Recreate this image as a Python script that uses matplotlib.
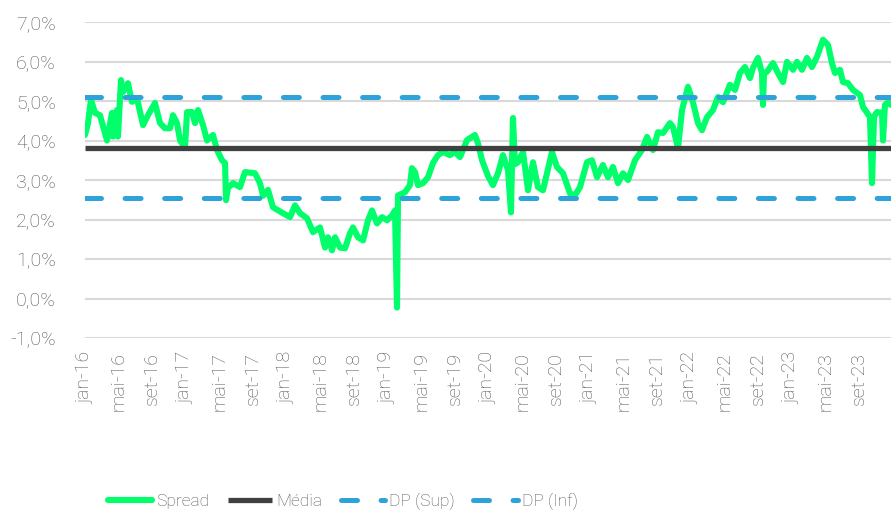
import matplotlib
matplotlib.use("Agg")
import matplotlib.pyplot as plt
from matplotlib.ticker import FixedLocator, FuncFormatter

# months since jan-2016 (fractional) and spread values (%)
months = [0.00, 0.36, 0.71, 1.19, 1.78, 2.62, 3.21, 3.33, 3.80, 3.92, 4.28, 4.52, 5.11, 5.59,
          6.18, 6.90, 7.49, 8.32, 8.92, 9.51, 10.11, 10.46, 10.94, 11.30, 11.89, 12.13, 12.72,
          13.08, 13.44, 14.03, 14.51, 15.22, 15.70, 16.29, 16.65, 16.77, 17.00, 17.60, 18.43,
          19.02, 20.21, 20.81, 21.17, 21.76, 22.35, 23.54, 24.38, 24.97, 25.57, 26.40, 27.11,
          27.94, 28.54, 28.89, 29.37, 29.73, 30.32, 30.92, 31.51, 31.87, 32.46, 33.06, 33.65,
          34.13, 34.72, 35.32, 35.91, 36.50, 36.86, 37.10, 37.22, 38.05, 38.64, 38.88, 39.24,
          39.60, 40.19, 40.78, 41.38, 41.97, 42.57, 43.40, 44.00, 44.59, 45.42, 46.37, 46.73,
          47.21, 47.92, 48.51, 49.11, 49.70, 50.30, 50.65, 50.89, 51.13, 51.49, 52.08, 52.68,
          53.27, 53.86, 54.46, 55.53, 56.12, 56.84, 57.67, 58.26, 58.86, 59.69, 60.29, 60.88,
          61.59, 62.19, 62.78, 63.38, 63.97, 64.57, 65.40, 66.23, 66.83, 67.54, 68.13, 68.73,
          69.56, 69.92, 70.51, 70.99, 71.70, 72.29, 72.89, 73.36, 73.96, 74.67, 75.27, 75.86,
          76.69, 77.29, 77.88, 78.48, 79.07, 79.43, 80.02, 80.50, 80.62, 80.74, 81.09, 81.81,
          82.40, 83.00, 83.47, 84.19, 84.66, 85.26, 85.85, 86.44, 87.04, 87.75, 88.35, 88.82,
          89.18, 89.77, 90.13, 90.73, 91.32, 92.15, 92.51, 93.34, 93.58, 93.82, 94.17, 94.77,
          94.89, 95.12, 95.48, 95.84]
spread = [4.14, 4.44, 5.03, 4.70, 4.64, 4.00, 4.70, 4.10, 4.77, 4.10, 5.53, 5.23, 5.45, 4.98,
          5.07, 4.39, 4.64, 4.95, 4.44, 4.31, 4.31, 4.64, 4.44, 4.00, 3.83, 4.72, 4.72,
          4.44, 4.77, 4.39, 4.00, 4.14, 3.76, 3.50, 3.43, 2.49, 2.80, 2.92, 2.82,
          3.20, 3.17, 2.92, 2.60, 2.75, 2.31, 2.16, 2.06, 2.36, 2.16, 2.03, 1.68,
          1.80, 1.29, 1.55, 1.22, 1.55, 1.29, 1.27, 1.65, 1.80, 1.55, 1.47, 1.98,
          2.23, 1.90, 2.06, 1.98, 2.10, 2.23, -0.23, 2.61, 2.69, 2.87, 3.30, 3.20,
          2.87, 2.92, 3.07, 3.43, 3.63, 3.71, 3.63, 3.71, 3.58, 4.01, 4.14, 3.93,
          3.50, 3.10, 2.87, 3.17, 3.63, 3.25, 2.18, 4.57, 3.40, 3.45, 3.71, 2.74,
          3.45, 2.82, 2.74, 3.71, 3.33, 3.17, 2.66, 2.61, 2.82, 3.45, 3.50, 3.07,
          3.38, 3.07, 3.33, 2.92, 3.17, 3.00, 3.50, 3.76, 4.09, 3.76, 4.21, 4.19,
          4.44, 4.34, 3.81, 4.77, 5.36, 4.97, 4.44, 4.26, 4.59, 4.77, 5.10, 4.97,
          5.41, 5.28, 5.71, 5.86, 5.58, 5.84, 6.09, 5.71, 4.90, 5.70, 5.74, 5.96,
          5.71, 5.48, 5.99, 5.79, 5.99, 5.79, 6.09, 5.86, 6.12, 6.55, 6.42, 5.96,
          5.71, 5.79, 5.48, 5.45, 5.28, 5.15, 4.85, 4.59, 2.92, 4.60, 4.72, 4.70,
          4.00, 4.90, 4.97, 4.90]

media = 3.82
dp_sup = 5.09
dp_inf = 2.55

tick_months = list(range(0, 96, 4))
tick_labels = ["jan-16", "mai-16", "set-16", "jan-17", "mai-17", "set-17", "jan-18", "mai-18",
               "set-18", "jan-19", "mai-19", "set-19", "jan-20", "mai-20", "set-20", "jan-21",
               "mai-21", "set-21", "jan-22", "mai-22", "set-22", "jan-23", "mai-23", "set-23"]

plt.rcParams['font.family'] = ['Roboto', 'DejaVu Sans']
plt.rcParams['font.weight'] = 'light'
plt.rcParams['lines.scale_dashes'] = False

fig = plt.figure(figsize=(8.91, 5.13), dpi=100)
ax = fig.add_axes([85/891, 1-338/513, 1-85/891, (338-22)/513])

txt_color = "#555555"
ax.set_ylim(-1, 7)
ax.set_xlim(0, 95.84)
ax.yaxis.set_major_locator(FixedLocator(list(range(-1, 8))))
ax.yaxis.set_major_formatter(FuncFormatter(lambda v, p: f"{v:.1f}%".replace(".", ",")))
ax.grid(axis='y', color="#d9d9d9", linewidth=1.5, zorder=0)
ax.set_axisbelow(True)
for s in ax.spines.values():
    s.set_visible(False)
ax.set_xticks(tick_months)
ax.set_xticklabels(tick_labels, rotation=90)
ax.tick_params(axis='both', length=0, colors=txt_color, labelsize=14)
ax.tick_params(axis='y', pad=21)
ax.tick_params(axis='x', pad=10)

xl = [months[0], months[-1]]
ax.plot(months, spread, color="#00ff6a", linewidth=4.4, solid_joinstyle='round',
        solid_capstyle='round', label="Spread", zorder=3)
ax.plot(xl, [media, media], color="#404040", linewidth=3.8, label="Média",
        solid_capstyle='butt', zorder=4)
ax.plot(xl, [dp_sup, dp_sup], color="#2ea3da", linewidth=3.6, linestyle=(0, (11.5, 17.0)),
        dash_capstyle='round', label="DP (Sup)", zorder=4)
ax.plot(xl, [dp_inf, dp_inf], color="#2ea3da", linewidth=3.6, linestyle=(0, (11.5, 17.0)),
        dash_capstyle='round', label="DP (Inf)", zorder=4)

leg = fig.legend(loc='center', bbox_to_anchor=(343/891, 1-501/513), ncol=4, frameon=False,
                 handlelength=2.55, handletextpad=0.25, columnspacing=1.05,
                 prop={'weight': 'light', 'size': 12.5})
for t in leg.get_texts():
    t.set_color(txt_color)

fig.savefig("out.png", dpi=100)
